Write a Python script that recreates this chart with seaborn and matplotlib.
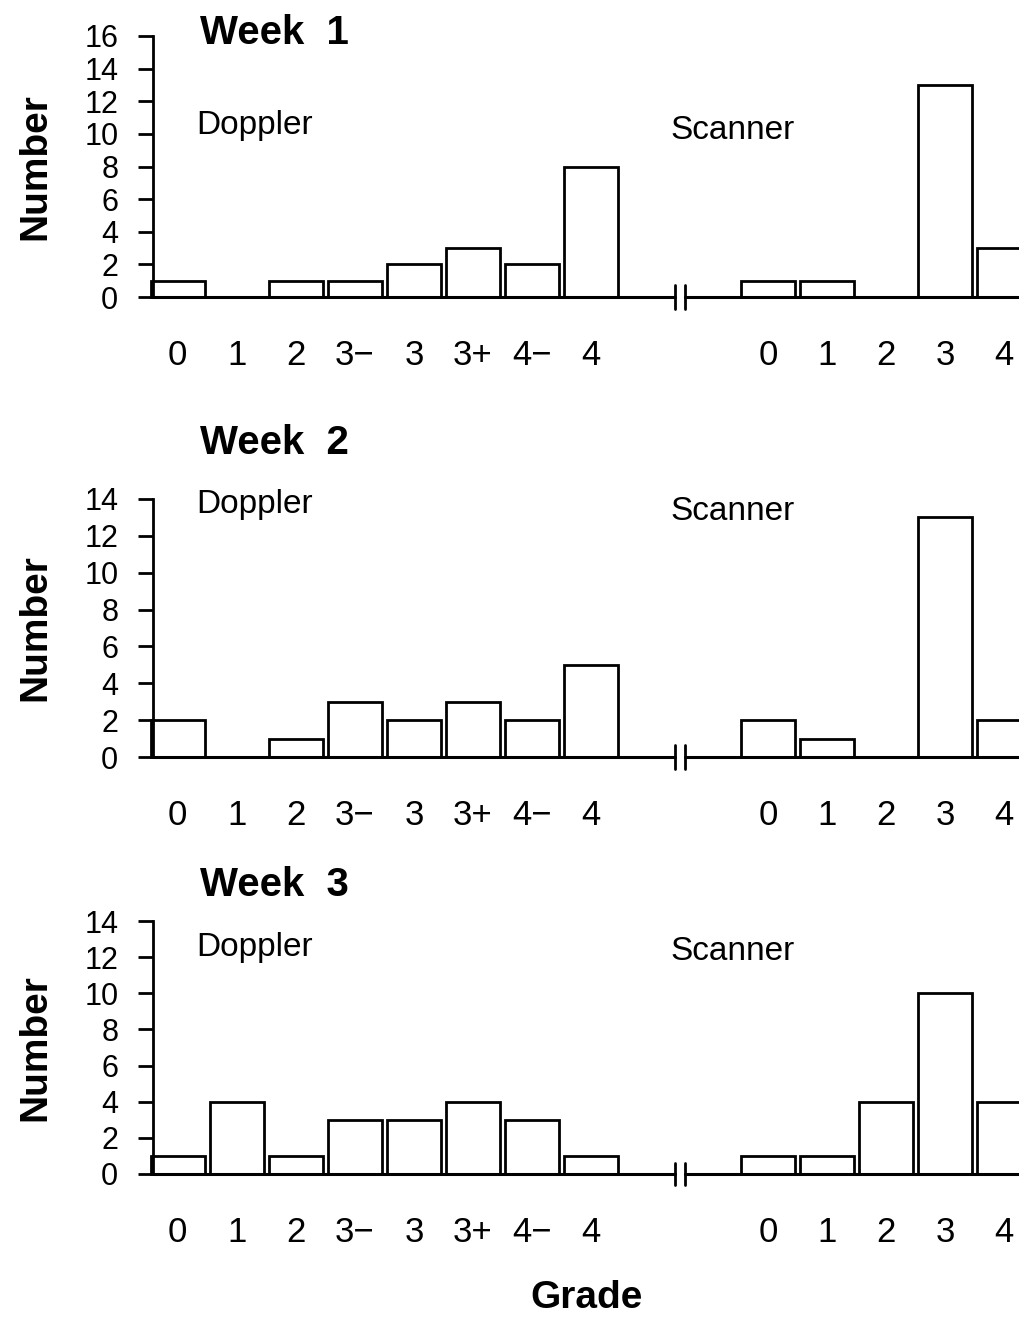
import numpy as np
import pandas as pd
import seaborn as sns
from matplotlib import pyplot as plt

# grade categories
doppler_grades = ["0", "1", "2", "3\u2212", "3", "3+", "4\u2212", "4"]
scanner_grades = ["0", "1", "2", "3", "4"]

# counts per grade
week1_doppler = [1, 0, 1, 1, 2, 3, 2, 8]
week1_scanner = [1, 1, 0, 13, 3]
week2_doppler = [2, 0, 1, 3, 2, 3, 2, 5]
week2_scanner = [2, 1, 0, 13, 2]
week3_doppler = [1, 4, 1, 3, 3, 4, 3, 1]
week3_scanner = [1, 1, 4, 10, 4]

weeks = ["Week  1", "Week  2", "Week  3"]
doppler_counts = [week1_doppler, week2_doppler, week3_doppler]
scanner_counts = [week1_scanner, week2_scanner, week3_scanner]
y_max = [16, 14, 14]

sns.set_style("ticks")
plt.rcParams['font.family'] = ['Liberation Sans Narrow', 'Liberation Sans', 'DejaVu Sans']
for key in ["text.color", "axes.labelcolor", "xtick.color", "ytick.color", "axes.edgecolor"]:
    plt.rcParams[key] = "black"

fig = plt.figure(figsize=(10.2, 13.18), dpi=100)

# panel boxes in figure fraction (left, bottom, width, height)
boxes = [(0.15, 0.7746, 0.85, 0.1981),
         (0.15, 0.4256, 0.85, 0.1958),
         (0.15, 0.1093, 0.85, 0.1919)]
title_y = [0.975, 0.664, 0.3285]
label_pos = [((0.32, 10.5), (8.34, 10.2)),
             ((0.32, 13.7), (8.34, 13.3)),
             ((0.32, 12.55), (8.34, 12.3))]

doppler_pos = np.arange(len(doppler_grades))
scanner_pos = np.arange(len(scanner_grades)) + 10

for i in range(3):
    ax = fig.add_axes(boxes[i])
    df = pd.DataFrame({
        "pos": np.concatenate([doppler_pos, scanner_pos]),
        "count": np.concatenate([doppler_counts[i], scanner_counts[i]]),
    })
    sns.barplot(data=df, x="pos", y="count", native_scale=True, width=0.91,
                color="white", saturation=1, edgecolor="black", linewidth=2,
                errorbar=None, ax=ax)
    for p in ax.patches:
        p.set_clip_on(False)

    ax.set_xlim(-0.42, 14.27)
    ax.set_ylim(0, y_max[i])
    ax.set_yticks(np.arange(0, y_max[i] + 1, 2))
    ax.set_xticks(np.concatenate([doppler_pos, scanner_pos]),
                  doppler_grades + scanner_grades)
    ax.set_xlabel("")
    ax.set_ylabel("Number", fontsize=28, fontweight="bold",
                  family=['Liberation Sans', 'DejaVu Sans'])
    ax.yaxis.set_label_coords(-0.115, 0.5)

    sns.despine(ax=ax, bottom=True)
    ax.spines["left"].set_linewidth(2)
    ax.tick_params(axis="y", length=11, width=2, labelsize=22, pad=14)
    ax.tick_params(axis="x", length=0, labelsize=25, pad=30)

    # broken baseline
    ax.plot([-0.42, 8.42], [0, 0], color="black", lw=2.2, clip_on=False)
    ax.plot([8.59, 14.27], [0, 0], color="black", lw=2.2, clip_on=False)
    trans = ax.get_xaxis_transform()
    for bx in (8.42, 8.59):
        ax.plot([bx, bx], [-0.045, 0.045], color="black", lw=2,
                transform=trans, clip_on=False)

    (dx, dy), (sx, sy) = label_pos[i]
    ax.text(dx, dy, "Doppler", fontsize=24, va="center", ha="left",
            family=['Liberation Sans', 'DejaVu Sans'])
    ax.text(sx, sy, "Scanner", fontsize=24, va="center", ha="left",
            family=['Liberation Sans', 'DejaVu Sans'])

    fig.text(0.196, title_y[i], weeks[i], fontsize=29, fontweight="bold",
             va="center", ha="left", family=['Liberation Sans', 'DejaVu Sans'])

fig.text(0.575, 0.015, "Grade", fontsize=28, fontweight="bold",
         va="center", ha="center", family=['Liberation Sans', 'DejaVu Sans'])

fig.savefig("out.png", dpi=100)
